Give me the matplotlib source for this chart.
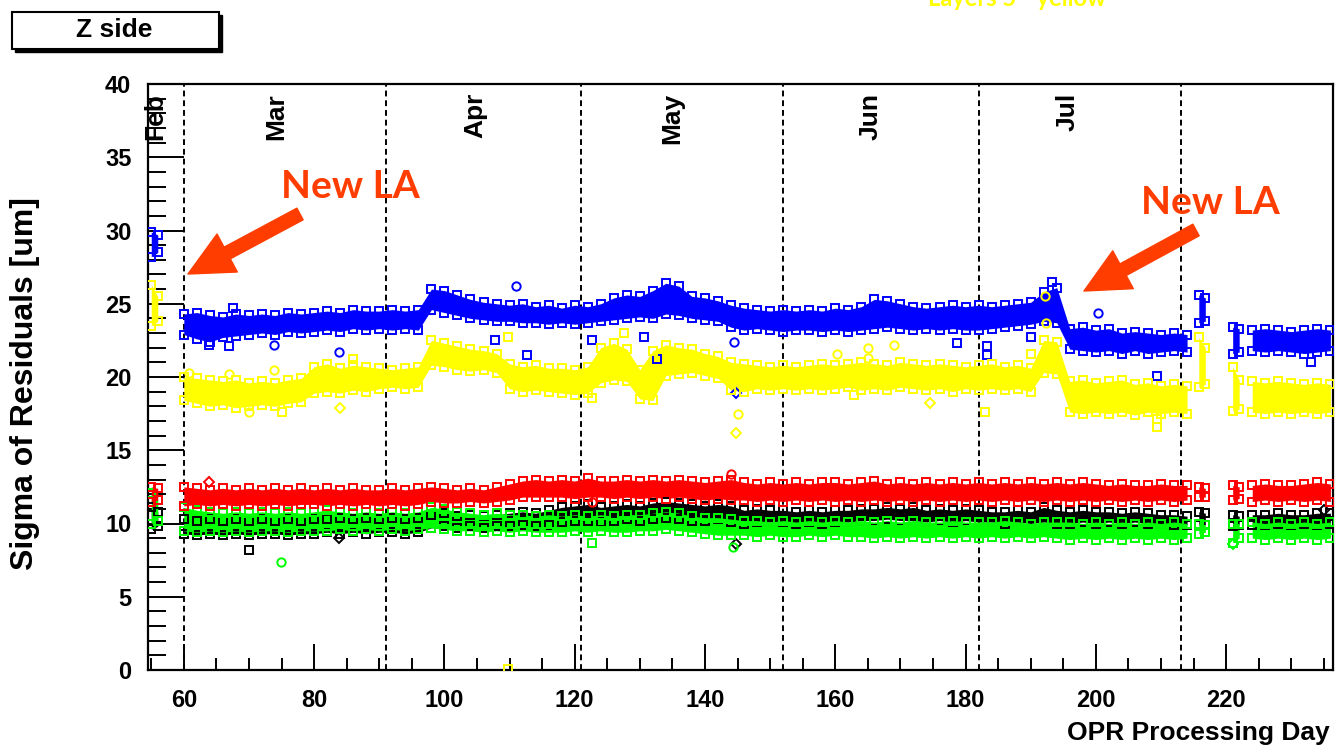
import matplotlib
matplotlib.use("Agg")
import matplotlib.pyplot as plt
import numpy as np
from matplotlib.patches import Rectangle
from matplotlib.ticker import MultipleLocator

# processing days (shared by all layers)
days = [55, 56,
        60, 62, 64, 66, 68, 70, 72, 74, 76, 78, 80, 82, 84, 86, 88, 90, 92, 94, 96,
        98, 100, 102, 104, 106, 108, 110, 112, 114, 116, 118, 120, 122, 124, 126, 128,
        130, 132, 134, 136, 138, 140, 142, 144, 146, 148, 150, 152, 154, 156, 158, 160,
        162, 164, 166, 168, 170, 172, 174, 176, 178, 180, 182, 184, 186, 188, 190, 192,
        194, 196, 198, 200, 202, 204, 206, 208, 210, 212, 214,
        215.8, 216.8, 221, 222, 224, 226, 228, 230, 232, 234, 236]
# first day of each continuous run of data
run_starts = [55, 60, 215.8, 221, 224]

# lower / upper edge of each layer's cloud of points
blue_lo = [28.2, 28.5,
           22.9, 22.6, 22.4, 22.7, 22.8, 22.9, 23.0, 22.9, 23.1, 23.0, 23.1, 23.2, 23.1, 23.3, 23.2, 23.3, 23.2, 23.3, 23.2,
           24.6, 24.4, 24.2, 24.0, 23.9, 23.8, 23.8, 23.7, 23.7, 23.6, 23.7, 23.6, 23.7, 23.8, 23.9, 24.0,
           24.1, 24.0, 24.3, 24.2, 24.0, 23.9, 23.8, 23.4, 23.2, 23.3, 23.2, 23.1, 23.2, 23.2, 23.1, 23.2,
           23.1, 23.2, 23.3, 23.4, 23.3, 23.2, 23.3, 23.2, 23.3, 23.2, 23.2, 23.3, 23.4, 23.5, 23.6, 23.8,
           23.7, 21.9, 21.8, 21.7, 21.8, 21.6, 21.8, 21.6, 21.7, 21.8, 21.7,
           23.7, 23.8, 21.6, 21.7, 21.8, 21.7, 21.8, 21.7, 21.6, 21.7, 21.8]
blue_hi = [29.9, 29.7,
           24.3, 24.4, 24.2, 24.1, 24.3, 24.2, 24.3, 24.2, 24.4, 24.3, 24.4, 24.5, 24.4, 24.6, 24.5, 24.5, 24.6, 24.5, 24.6,
           26.0, 25.9, 25.6, 25.3, 25.1, 25.0, 24.9, 25.0, 24.8, 24.9, 24.7, 24.9, 24.8, 25.0, 25.4, 25.6,
           25.5, 25.9, 26.4, 26.2, 25.5, 25.4, 25.2, 24.9, 24.7, 24.6, 24.5, 24.6, 24.5, 24.6, 24.5, 24.7,
           24.6, 24.8, 25.3, 25.2, 25.0, 24.8, 24.7, 24.8, 24.9, 24.8, 24.9, 24.8, 24.9, 25.0, 25.1, 25.8,
           26.1, 23.3, 23.4, 23.2, 23.3, 23.0, 23.1, 23.0, 22.9, 23.0, 22.9,
           25.6, 25.4, 23.4, 23.3, 23.2, 23.3, 23.2, 23.1, 23.2, 23.3, 23.2]

yellow_lo = [23.5, 23.8,
             18.4, 18.2, 18.0, 18.1, 17.9, 18.0, 18.1, 18.0, 18.2, 18.3, 18.9, 19.0, 18.9, 19.1, 19.0, 19.2, 19.3, 19.2, 19.3,
             20.8, 20.7, 20.5, 20.4, 20.5, 20.3, 19.2, 19.0, 19.1, 19.0, 18.9, 18.8, 18.9, 19.6, 19.8, 19.7,
             18.5, 18.4, 20.1, 20.2, 20.3, 20.1, 19.9, 19.1, 19.0, 19.2, 19.1, 19.2, 19.1, 19.2, 19.1, 19.2,
             19.3, 19.1, 19.2, 19.1, 19.3, 19.2, 19.1, 19.2, 19.0, 19.2, 19.1, 19.2, 19.1, 19.2, 19.0, 20.3,
             20.2, 17.6, 17.5, 17.6, 17.5, 17.6, 17.4, 17.6, 17.5, 17.6, 17.5,
             19.3, 19.5, 17.7, 17.8, 17.6, 17.5, 17.6, 17.5, 17.6, 17.5, 17.6]
yellow_hi = [26.3, 25.5,
             20.0, 19.9, 19.8, 19.7, 19.8, 19.6, 19.7, 19.6, 19.8, 19.9, 20.7, 20.9, 20.6, 20.8, 20.7, 20.6, 20.5, 20.6, 20.7,
             22.5, 22.3, 22.1, 21.9, 21.8, 21.6, 20.9, 20.7, 20.8, 20.6, 20.6, 20.5, 20.7, 22.0, 22.3, 21.9,
             20.5, 21.8, 22.2, 22.0, 21.9, 21.6, 21.4, 21.0, 20.9, 20.8, 20.7, 20.8, 20.7, 20.8, 20.9, 20.8,
             20.9, 21.0, 20.9, 20.8, 21.0, 20.9, 20.8, 20.9, 20.8, 20.7, 20.8, 20.9, 20.7, 20.8, 20.6, 22.5,
             22.4, 19.7, 19.8, 19.6, 19.7, 19.8, 19.5, 19.6, 19.4, 19.5, 19.4,
             22.7, 22.0, 20.7, 19.8, 19.7, 19.6, 19.7, 19.6, 19.5, 19.6, 19.5]

red_lo = [11.5, 11.6,
          11.2, 11.3, 11.2, 11.3, 11.2, 11.3, 11.2, 11.3, 11.2, 11.3, 11.3, 11.2, 11.3, 11.2, 11.3, 11.2, 11.3, 11.2, 11.3,
          11.5, 11.4, 11.4, 11.5, 11.4, 11.5, 11.6, 11.8, 11.8, 11.8, 11.8, 11.7, 11.8, 11.8, 11.7, 11.8,
          11.7, 11.8, 11.7, 11.8, 11.7, 11.6, 11.7, 11.6, 11.6, 11.5, 11.6, 11.5, 11.6, 11.5, 11.6, 11.5,
          11.6, 11.5, 11.6, 11.5, 11.6, 11.5, 11.6, 11.5, 11.6, 11.5, 11.6, 11.5, 11.6, 11.5, 11.6, 11.5,
          11.6, 11.5, 11.6, 11.5, 11.6, 11.5, 11.6, 11.5, 11.6, 11.5, 11.6,
          11.8, 11.8, 11.6, 11.7, 11.5, 11.6, 11.5, 11.6, 11.5, 11.6, 11.5]
red_hi = [12.5, 12.4,
          12.5, 12.4, 12.3, 12.4, 12.3, 12.4, 12.3, 12.4, 12.3, 12.4, 12.3, 12.4, 12.3, 12.4, 12.3, 12.3, 12.4, 12.3, 12.4,
          12.5, 12.4, 12.3, 12.4, 12.3, 12.5, 12.7, 12.9, 13.0, 12.9, 13.0, 12.9, 13.1, 12.9, 12.9, 13.0,
          12.9, 13.0, 12.9, 13.0, 12.9, 12.8, 12.9, 13.0, 12.8, 12.7, 12.8, 12.7, 12.8, 12.7, 12.8, 12.8,
          12.7, 12.8, 12.9, 12.7, 12.8, 12.7, 12.8, 12.7, 12.8, 12.7, 12.8, 12.7, 12.8, 12.7, 12.8, 12.7,
          12.8, 12.7, 12.8, 12.7, 12.6, 12.7, 12.6, 12.6, 12.7, 12.6, 12.6,
          12.5, 12.4, 12.6, 12.5, 12.6, 12.7, 12.6, 12.6, 12.7, 12.8, 12.7]

black_lo = [9.6, 9.8,
            9.3, 9.2, 9.3, 9.2, 9.3, 9.2, 9.3, 9.3, 9.2, 9.3, 9.3, 9.4, 9.3, 9.4, 9.3, 9.4, 9.4, 9.3, 9.4,
            9.7, 9.8, 9.7, 9.8, 9.7, 9.8, 9.8, 9.9, 9.8, 9.9, 10.1, 10.2, 10.2, 10.1, 10.2, 10.3,
            10.2, 10.3, 10.4, 10.3, 10.2, 10.2, 10.3, 10.1, 10.0, 10.1, 10.1, 10.1, 10.0, 10.1, 10.0, 10.1,
            10.1, 10.2, 10.2, 10.3, 10.2, 10.2, 10.1, 10.2, 10.1, 10.2, 10.1, 10.1, 10.0, 10.1, 10.0, 10.1,
            10.0, 10.0, 10.1, 10.0, 10.1, 10.0, 10.1, 10.0, 10.0, 9.9, 9.9,
            9.9, 9.9, 9.8, 9.9, 9.9, 9.9, 10.0, 9.9, 10.0, 9.9, 10.0]
black_hi = [11.1, 10.8,
            10.3, 10.2, 10.3, 10.2, 10.3, 10.2, 10.3, 10.2, 10.3, 10.2, 10.3, 10.3, 10.4, 10.3, 10.4, 10.3, 10.4, 10.3, 10.4,
            10.6, 10.7, 10.5, 10.6, 10.5, 10.6, 10.7, 10.8, 10.7, 10.9, 11.1, 11.2, 11.3, 11.1, 11.2, 11.3,
            11.2, 11.4, 11.5, 11.4, 11.3, 11.2, 11.3, 11.2, 10.9, 11.0, 10.9, 10.9, 10.8, 10.9, 10.8, 10.9,
            10.9, 11.0, 11.0, 11.1, 11.0, 11.1, 10.9, 11.0, 10.9, 11.0, 10.9, 10.8, 10.8, 10.9, 10.8, 11.1,
            10.9, 10.8, 10.9, 10.8, 10.8, 10.7, 10.8, 10.7, 10.6, 10.6, 10.5,
            10.8, 10.7, 10.6, 10.5, 10.6, 10.6, 10.7, 10.6, 10.6, 10.7, 10.7]

green_lo = [10.0, 10.2,
            9.5, 9.4, 9.5, 9.4, 9.5, 9.4, 9.5, 9.5, 9.4, 9.5, 9.5, 9.5, 9.6, 9.5, 9.6, 9.5, 9.6, 9.5, 9.6,
            9.7, 9.6, 9.5, 9.5, 9.4, 9.5, 9.4, 9.5, 9.4, 9.4, 9.4, 9.5, 9.4, 9.5, 9.4, 9.4,
            9.5, 9.5, 9.6, 9.5, 9.4, 9.3, 9.2, 9.2, 9.2, 9.1, 9.2, 9.1, 9.1, 9.2, 9.1, 9.2,
            9.1, 9.1, 9.0, 9.1, 9.0, 9.1, 9.0, 9.1, 9.0, 9.1, 9.0, 9.1, 9.0, 9.1, 9.0, 9.1,
            9.0, 8.9, 9.0, 8.9, 9.0, 8.9, 9.0, 8.9, 9.0, 8.9, 9.0,
            9.3, 9.4, 8.7, 9.0, 9.0, 8.9, 9.0, 8.9, 9.0, 8.9, 9.0]
green_hi = [12.1, 11.6,
            11.1, 10.9, 10.8, 10.7, 10.8, 10.7, 10.8, 10.7, 10.8, 10.7, 10.8, 10.9, 10.8, 10.7, 10.8, 10.7, 10.8, 10.7, 10.8,
            11.1, 11.0, 10.8, 10.7, 10.6, 10.7, 10.6, 10.6, 10.5, 10.6, 10.5, 10.6, 10.5, 10.6, 10.5, 10.6,
            10.6, 10.7, 10.8, 10.7, 10.5, 10.4, 10.4, 10.3, 10.2, 10.2, 10.1, 10.2, 10.1, 10.2, 10.1, 10.2,
            10.1, 10.2, 10.1, 10.2, 10.1, 10.2, 10.1, 10.1, 10.2, 10.1, 10.1, 10.1, 10.2, 10.1, 10.0, 10.1,
            10.1, 10.1, 10.0, 10.1, 10.0, 10.1, 10.0, 10.1, 10.0, 10.1, 10.0,
            10.0, 9.9, 10.0, 10.0, 10.1, 10.0, 10.1, 10.0, 10.1, 10.0, 10.1]

# isolated points (day, value, marker)
blue_out = [(63.8, 22.2, 's'), (66.9, 22.1, 's'), (67.5, 24.7, 's'), (73.8, 22.2, 'o'), (83.8, 21.7, 'o'),
            (107.8, 22.5, 's'), (111.0, 26.2, 'o'), (112.7, 21.5, 's'), (122.7, 22.5, 's'), (130.6, 22.7, 's'),
            (132.7, 21.2, 's'), (144.4, 22.4, 'o'), (144.7, 18.9, 'D'), (178.7, 22.3, 's'), (183.3, 22.1, 's'),
            (183.3, 21.5, 's'), (190.0, 22.7, 's'), (193.3, 26.5, 's'), (200.3, 24.4, 'o'), (209.4, 20.1, 's'),
            (233.0, 21.0, 's')]
yellow_out = [(60.8, 20.3, 'o'), (66.9, 20.2, 'o'), (73.8, 20.5, 'o'), (70.0, 17.6, 'o'), (75.0, 17.6, 's'),
              (84.0, 17.9, 'D'), (86.0, 21.2, 's'), (109.8, 0.1, 's'), (109.8, 22.7, 's'), (122.7, 18.6, 's'),
              (127.5, 23.0, 's'), (144.7, 16.2, 'D'), (145.0, 17.5, 'o'), (160.3, 21.6, 'o'), (162.8, 18.8, 's'),
              (165.0, 22.0, 'o'), (165.0, 21.3, 'o'), (169.0, 22.2, 'o'), (174.6, 18.2, 'D'), (183.0, 17.6, 's'),
              (190.0, 21.6, 's'), (192.2, 25.5, 'o'), (192.3, 23.7, 'o'), (209.4, 16.6, 's'), (209.4, 17.1, 's')]
red_out = [(63.8, 12.8, 'D'), (122.7, 11.5, 'o'), (144.0, 13.4, 'o')]
black_out = [(70.0, 8.2, 's'), (83.8, 9.0, 'D'), (144.8, 8.6, 'D'), (235.0, 10.9, 'D')]
green_out = [(74.9, 7.4, 'o'), (122.7, 8.7, 's'), (144.3, 8.4, 'o'), (221.0, 8.6, 'D')]

month_starts = [60, 91, 121, 152, 182, 213]
month_names = ['Feb', 'Mar', 'Apr', 'May', 'Jun', 'Jul']
month_label_days = [55.6, 74.2, 104.8, 135.0, 165.4, 195.7]

layers = [
    ('black', black_lo, black_hi, black_out),
    ('#00ff00', green_lo, green_hi, green_out),
    ('red', red_lo, red_hi, red_out),
    ('blue', blue_lo, blue_hi, blue_out),
    ('#ffff00', yellow_lo, yellow_hi, yellow_out),
]

fig = plt.figure(figsize=(13.35, 7.46), dpi=100)
ax = fig.add_axes([148 / 1335, 1 - 670 / 746, 1185 / 1335, 586 / 746])

d = np.array(days, dtype=float)
breaks = [days.index(s) for s in run_starts[1:]]
segs = np.split(np.arange(len(d)), breaks)

for col, lo, hi, out in layers:
    lo = np.array(lo)
    hi = np.array(hi)
    for s in segs:
        ax.fill_between(d[s], lo[s], hi[s], color=col, lw=0, zorder=2)
    ax.plot(d, lo, 's', mfc='none', mec=col, ms=6, mew=1.4, zorder=3)
    ax.plot(d, hi, 's', mfc='none', mec=col, ms=6, mew=1.4, zorder=3)
    for x, y, m in out:
        ax.plot(x, y, marker=m, mfc='none', mec=col, ms=6 if m != 'D' else 5, mew=1.4, zorder=3)

for m in month_starts:
    ax.axvline(m, color='black', lw=1.4, ls=(0, (3, 2)), zorder=1)
for x, name in zip(month_label_days, month_names):
    ax.text(x, 39.4, name, rotation=90, ha='center', va='top',
            fontsize=19, fontweight='bold', family='Liberation Sans')

ax.set_xlim(54.5, 236.4)
ax.set_ylim(0, 40)
ax.xaxis.set_major_locator(MultipleLocator(20))
ax.xaxis.set_minor_locator(MultipleLocator(5))
ax.yaxis.set_major_locator(MultipleLocator(5))
ax.yaxis.set_minor_locator(MultipleLocator(1))
ax.tick_params(axis='x', which='major', direction='in', length=19, width=1.4, pad=14)
ax.tick_params(axis='x', which='minor', direction='in', length=9, width=1.4)
ax.tick_params(axis='y', which='major', direction='in', length=26, width=1.4, pad=12)
ax.tick_params(axis='y', which='minor', direction='in', length=13, width=1.4)
for lab in ax.get_xticklabels() + ax.get_yticklabels():
    lab.set_fontsize(17)
    lab.set_fontweight('bold')
    lab.set_family('Liberation Sans')
for sp in ax.spines.values():
    sp.set_linewidth(1.6)

fig.text(25 / 1335, 1 - 384 / 746, 'Sigma of Residuals [um]', rotation=90,
         ha='center', va='center', fontsize=23, fontweight='bold', family='Liberation Sans')
fig.text(1330 / 1335, 1 - 733 / 746, 'OPR Processing Day', ha='right', va='center',
         fontsize=19, fontweight='bold', family='Liberation Sans')

# title box with shadow
fig.patches.append(Rectangle((15 / 1335, 1 - 52 / 746), 207 / 1335, 37 / 746,
                             transform=fig.transFigure, facecolor='black', edgecolor='black'))
fig.patches.append(Rectangle((12 / 1335, 1 - 49 / 746), 207 / 1335, 37 / 746,
                             transform=fig.transFigure, facecolor='white', edgecolor='black', lw=1.5))
fig.text(114 / 1335, 1 - 30 / 746, 'Z side', ha='center', va='center',
         fontsize=19, fontweight='bold', family='Liberation Sans')

orange = '#ff3d00'
fig.text(350 / 1335, 1 - 186 / 746, 'New LA', ha='center', va='center', color=orange,
         fontsize=28, fontweight='bold', family='Lato')
fig.text(1210 / 1335, 1 - 203 / 746, 'New LA', ha='center', va='center', color=orange,
         fontsize=28, fontweight='bold', family='Lato')
arrow = dict(arrowstyle='simple,head_length=3.2,head_width=3.1,tail_width=0.95',
             color=orange, shrinkA=0, shrinkB=0, mutation_scale=10)
ax.annotate('', xy=(188, 746 - 274), xytext=(300, 746 - 214), xycoords='figure pixels',
            textcoords='figure pixels', arrowprops=arrow)
ax.annotate('', xy=(1084, 746 - 291), xytext=(1196, 746 - 230), xycoords='figure pixels',
            textcoords='figure pixels', arrowprops=arrow)

# legend text, partly cut off at the top edge as in the original
fig.text(928 / 1335, 1 - 6 / 746, 'Layers 5 - yellow', ha='left', va='baseline',
         color='#ffff00', fontsize=17, fontweight='bold', family='Lato')

fig.savefig('out.png', dpi=100)
